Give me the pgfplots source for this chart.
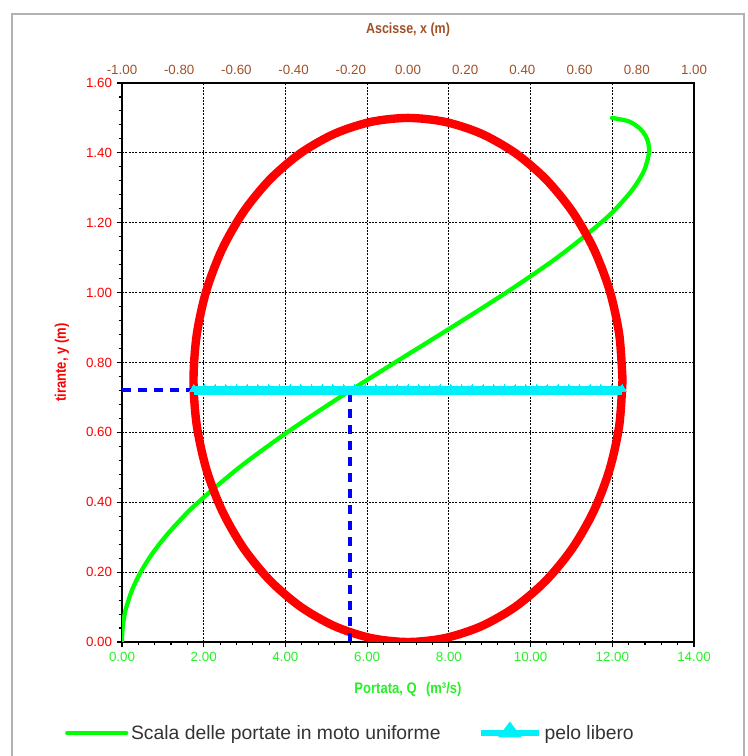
\documentclass[border=0pt]{standalone}
\usepackage{fontspec}
\setmainfont{Liberation Sans}
\newfontfamily\narrowfont[FakeStretch=0.85]{Liberation Sans}
\usepackage{pgfplots}
\pgfplotsset{compat=1.18}
\definecolor{cred}{RGB}{255,0,0}
\definecolor{cgreen}{RGB}{0,255,0}
\definecolor{clabgreen}{RGB}{40,240,40}
\definecolor{ccyan}{RGB}{0,240,250}
\definecolor{cbrown}{RGB}{160,80,40}
\definecolor{cblue}{RGB}{0,0,255}
\begin{document}
\begin{tikzpicture}
\useasboundingbox (0,0) rectangle (561pt,567pt);
\draw[gray!60, line width=1.5pt] (9pt,-5pt) -- (9pt,556.5pt) -- (558pt,556.5pt) -- (558pt,-5pt);
% top axis (Ascisse)
\begin{axis}[
  at={(91.5pt,85.5pt)}, anchor=south west,
  scale only axis, width=429pt, height=419.25pt,
  xmin=-1, xmax=1, ymin=0, ymax=1.6,
  axis x line*=top, axis y line=none,
  xtick={-1,-0.8,-0.6,-0.4,-0.2,0,0.2,0.4,0.6,0.8,1},
  major tick length=0pt,
  axis line style={black, line width=1.2pt},
  xticklabel style={/pgf/number format/fixed, /pgf/number format/fixed zerofill, /pgf/number format/precision=2, /pgf/number format/assume math mode=true, font=\fontsize{10}{12}\selectfont, text=cbrown, yshift=3pt},
  xlabel={Ascisse, x (m)},
  xlabel style={at={(axis description cs:0.5,1.0948)}, anchor=center, font=\narrowfont\bfseries\fontsize{11}{13}\selectfont, text=cbrown},
]
\addplot[draw=none] coordinates {(0,0)};
\end{axis}
% main axis
\begin{axis}[
  at={(91.5pt,85.5pt)}, anchor=south west,
  scale only axis, width=429pt, height=419.25pt,
  xmin=0, xmax=14, ymin=0, ymax=1.6,
  xtick={0,2,4,6,8,10,12,14},
  ytick={0,0.2,0.4,0.6,0.8,1.0,1.2,1.4,1.6},
  minor x tick num=4, minor y tick num=4,
  tick pos=left, tick align=outside,
  major tick length=4pt, minor tick length=2.5pt,
  tick style={black, line width=0.8pt},
  grid=major, major grid style={black, line width=0.6pt, dash pattern=on 1.5pt off 1pt},
  axis line style={black, line width=1.2pt},
  xticklabel style={/pgf/number format/fixed, /pgf/number format/fixed zerofill, /pgf/number format/precision=2, /pgf/number format/assume math mode=true, font=\fontsize{10}{12}\selectfont, text=clabgreen},
  yticklabel style={/pgf/number format/fixed, /pgf/number format/fixed zerofill, /pgf/number format/precision=2, /pgf/number format/assume math mode=true, font=\fontsize{10}{12}\selectfont, text=cred},
  xlabel={Portata, Q\hspace{7pt}(m³/s)},
  xlabel style={at={(axis description cs:0.5,-0.0859)}, anchor=center, font=\narrowfont\bfseries\fontsize{11.5}{13}\selectfont, text=clabgreen},
  ylabel={tirante, y (m)},
  ylabel style={at={(axis description cs:-0.105,0.5)}, anchor=center, font=\narrowfont\bfseries\fontsize{11.5}{13}\selectfont, text=cred},
  legend columns=2, legend cell align=left,
  legend style={at={(-0.1,-0.163)}, anchor=west, draw=none, fill=none, inner sep=0pt,
    font=\fontsize{14.5}{17}\selectfont, text=black!80,
    /tikz/every even column/.append style={column sep=26pt}},
]
\addplot[cgreen, line width=3.2pt, smooth, line cap=round,
  legend image code/.code={\draw[cgreen, line width=3.5pt] (0pt,0pt) -- (44pt,0pt);}]
  table {
Q y
0 0
0.0008 0.01
0.0034 0.02
0.0081 0.03
0.0242 0.05
0.0576 0.075
0.1062 0.10
0.2504 0.15
0.4568 0.20
0.7241 0.25
1.0502 0.30
1.4321 0.35
1.8660 0.40
2.8748 0.50
4.0411 0.60
5.3243 0.70
6.6799 0.80
8.0572 0.90
9.4006 1.00
10.6478 1.10
11.7224 1.20
12.1660 1.25
12.5266 1.30
12.7820 1.35
12.8982 1.40
12.8764 1.43
12.8073 1.45
12.6722 1.47
12.4083 1.49
11.9922 1.50
};
\addlegendentry{Scala delle portate in moto uniforme}
\addplot[cred, line width=6.3pt, smooth, forget plot] coordinates {
(12.2500,0.7500) (12.1703,0.8802) (11.9334,1.0065) (11.5467,1.1250) (11.0217,1.2321)
(10.3746,1.3245) (9.6250,1.3995) (8.7956,1.4548) (7.9117,1.4886) (7.0000,1.5000)
(6.0883,1.4886) (5.2044,1.4548) (4.3750,1.3995) (3.6254,1.3245) (2.9783,1.2321)
(2.4533,1.1250) (2.0666,1.0065) (1.8297,0.8802) (1.7500,0.7500) (1.8297,0.6198)
(2.0666,0.4935) (2.4533,0.3750) (2.9783,0.2679) (3.6254,0.1755) (4.3750,0.1005)
(5.2044,0.0452) (6.0883,0.0114) (7.0000,0.0000) (7.9117,0.0114) (8.7956,0.0452)
(9.6250,0.1005) (10.3746,0.1755) (11.0217,0.2679) (11.5467,0.3750) (11.9334,0.4935)
(12.1703,0.6198) (12.2500,0.7500)
};
\addplot[cblue, line width=3pt, dash pattern=on 7pt off 5pt, forget plot] coordinates {(0,0.72) (1.75,0.72)};
\addplot[cblue, line width=3pt, dash pattern=on 7pt off 5pt, forget plot] coordinates {(5.59,0) (5.59,0.72)};
\addplot[ccyan, line width=6.5pt, mark=triangle*, mark size=3.6pt, mark options={ccyan, line width=0pt, fill=ccyan, yshift=1pt},
  legend image code/.code={\draw[ccyan, line width=4pt] (0pt,0pt) -- (44pt,0pt); \fill[ccyan] (19.5pt,0pt) -- (24.5pt,0pt) -- (22pt,3.3pt) -- cycle;}]
  table {
Q y
1.7542 0.72
2.0165 0.72
2.2788 0.72
2.5411 0.72
2.8034 0.72
3.0657 0.72
3.3279 0.72
3.5902 0.72
3.8525 0.72
4.1148 0.72
4.3771 0.72
4.6394 0.72
4.9017 0.72
5.1640 0.72
5.4263 0.72
5.6886 0.72
5.9508 0.72
6.2131 0.72
6.4754 0.72
6.7377 0.72
7.0000 0.72
7.2623 0.72
7.5246 0.72
7.7869 0.72
8.0492 0.72
8.3114 0.72
8.5737 0.72
8.8360 0.72
9.0983 0.72
9.3606 0.72
9.6229 0.72
9.8852 0.72
10.1475 0.72
10.4098 0.72
10.6721 0.72
10.9343 0.72
11.1966 0.72
11.4589 0.72
11.7212 0.72
11.9835 0.72
12.2458 0.72
};
\addlegendentry{pelo libero}
\end{axis}
\end{tikzpicture}
\end{document}
